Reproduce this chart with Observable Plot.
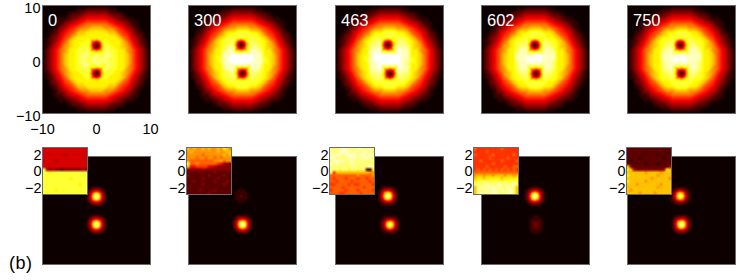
<!DOCTYPE html>
<html>
<head>
<meta charset="utf-8">
<script src="https://cdn.jsdelivr.net/npm/d3@7"></script>
<script src="https://cdn.jsdelivr.net/npm/@observablehq/plot@0.6"></script>
<style>
html,body{margin:0;padding:0;background:#fff}
#chart{position:relative;width:747px;height:280px;overflow:hidden;font-family:"Liberation Sans",Arial,sans-serif}
#chart>svg{position:absolute;overflow:visible;background:transparent}
#tag{position:absolute;left:9px;top:253px;font-size:18px;letter-spacing:.5px;color:#000}
</style>
</head>
<body>
<div id="chart"></div>
<script>
const frameLabels = ["0","300","463","602","750"];
const axisTicks = [-10,0,10];
const insetTicks = [-2,0,2];
const panelLeft = [42,188.3,334.5,480.7,626.8];
const insetLeft = [42,185.5,329,472.5,625.7];

// vortex core / bright-spot positions in each frame
const corePositions = [
  [[0,2.6],[0,-2.6]],
  [[-0.25,2.7],[0,-2.6]],
  [[-0.3,2.7],[0.1,-2.65]],
  [[-0.1,2.65],[0.1,-2.65]],
  [[-0.2,2.7],[0,-2.6]]
];

// density maps, 0..f on the "hot" colours; "." cells are covered by the core patch
const rimTop = [
 "0000000000000000000000000",
 "0000000011222221100000000",
 "0000001223444443221000000",
 "0000112345666665432110000",
 "0001134567888887654311000",
 "00013467899aaa99876431000"];
const rimBottom = [
 "00013467899aaa99876431000",
 "0001134567888887654311000",
 "0000112345666665432110000",
 "0000001223444443221000000",
 "0000000011222221100000000",
 "0000000000000000000000000"];
const density0 = [
 "00124678aabbbbbaa87642100",
 "0023578abbbbbbbbba8753200",
 "012468abbbc...cbbba864210",
 "013579abbcc...ccbba975310",
 "024689bbccd...dccbb986420",
 "02468abbcddcdcddcbba86420",
 "02468abbcdcddddccbba86420",
 "02468abbcddcddcdcbba86420",
 "024689bbccd...dccbb986420",
 "013579abbcc...ccbba975310",
 "012468abbbc...cbbba864210",
 "0023578abbbbbbbbba8753200",
 "00124678aabbbbbaa87642100"];
const density300 = [
 "00124678abbcccbba87642100",
 "0023578abcccccccba8753200",
 "012468abccd...dccba864210",
 "013579abcdd...ddcba975310",
 "024689bbdee...eedbb986420",
 "02468abbeefffffeebba86420",
 "02468abceffffffeecba86420",
 "02468abbeeffffeeebba86420",
 "024689bbdee...eedbb986420",
 "013579abcdd...ddcba975310",
 "012468abccd...dccba864210",
 "0023578abcccccccba8753200",
 "00124678abbcccbba87642100"];
const density463 = [
 "00124678abbcccbba87642100",
 "0023578abcccccccba8753200",
 "012468abcdd...ddcba864210",
 "013579abdde...eddba975310",
 "024689bbeef...feebb986420",
 "02468abbeffffffeebba86420",
 "02468abceffffffeecba86420",
 "02468abbeefffffedbba86420",
 "024689bbeef...feebb986420",
 "013579abdde...eddba975310",
 "012468abcdd...ddcba864210",
 "0023578abcccccccba8753200",
 "00124678abbcccbba87642100"];
const density602 = [
 "00124678abbcccbba87642100",
 "0023578abbcccccbba8753200",
 "012468abccd...dccba864210",
 "013579abcdd...ddcba975310",
 "024689bbdee...eedbb986420",
 "02468abbeeeeffeeebba86420",
 "02468abbeeffffeeebba86420",
 "02468abbdeeeeeeedbba86420",
 "024689bbdee...eedbb986420",
 "013579abcdd...ddcba975310",
 "012468abccd...dccba864210",
 "0023578abbcccccbba8753200",
 "00124678abbcccbba87642100"];
const density750 = [
 "00124678abbcccbba87642100",
 "0023578abbcccccbba8753200",
 "012468abccd...dccba864210",
 "013579abcdd...ddcba975310",
 "024689bbdee...eedbb986420",
 "02468abbeeeefeeeebba86420",
 "02468abbeeffffeeebba86420",
 "02468abbdeeeeeeedbba86420",
 "024689bbdee...eedbb986420",
 "013579abcdd...ddcba975310",
 "012468abccd...dccba864210",
 "0023578abbcccccbba8753200",
 "00124678abbcccbba87642100"];
const densityMaps = [density0,density300,density463,density602,density750];

// dark vortex core, sampled every 0.55 units around a position
const corePatch = ["bbabb","b646b","a404a","b646b","bbabb"];

// bright spots, same colour digits, sampled every 0.5 units around a position
const spotBright = ["000000000","001222100","013565310","025aca520","026cfc620","025aca520","013565310","001222100","000000000"];
const spotStrong = ["000000000","001111100","012454210","0249b9420","025beb520","0249b9420","012454210","001111100","000000000"];
const spotFaint  = ["000000000","000000000","000111000","001111100","001121100","001111100","000111000","000000000","000000000"];
const spotDim    = ["000000000","000111000","001111100","001222100","001232100","001222100","001111100","000111000","000000000"];
const spotsPerFrame = [
  [spotBright,spotBright],
  [spotFaint,spotBright],
  [spotBright,spotStrong],
  [spotBright,spotDim],
  [spotStrong,spotBright]
];
const emptyX = [-10,-5,5,10];
const emptyY = [-10,-5,0,5,10];
const emptyColumn = [[0,10],[0,0],[0,-10]];

// phase insets, 15 x 16 cells
const phase0 = [
 "555555555555555","555555555555555","555555545555555","555555555555555",
 "555545555555555","555555555555555","555555555555555","c43433233333343",
 "ccbcccccccccccc","ccccccccccccccc","cccccccccbccccc","ccccccccccccccc",
 "ccccccccccccbcc","ccccccccccccccc","ccccbcccccccccc","ccccccccccccccc"];
const phase300 = [
 "a9a99a9a99a9ba9","9a99999999a99aa","999998999999a9a","999899899898999",
 "98888888899a899","d88988888876433","a66777755433333","333334333333333",
 "222232222322222","322222232222322","222223222232222","223222222322232",
 "222223222222322","322222222222222","222232222322222","222222232222222"];
const phase463 = [
 "ddddeedddeedded","eddefeededdeedd","deeedeeeedeedee","eeddddeeedeeeed",
 "deeeeddeddddddd","ededdddeddddddd","dddddddddddddee","dddcddcddcdd21b",
 "d7aaaaaaaaaaa99","888888888988889","878887888788788","887888878888878",
 "778888787788887","888878888887888","788887888788887","888778888878888"];
const phase602 = [
 "877777777877777","777787777777777","877777877777787","777778777778777",
 "778777777877778","777777877777777","777787777787788","787878787878787",
 "888888888888888","9aa9aa9aaa9aa9a","abbabbbbbabbbbb","bccdcccdccdccdc",
 "ddddedddedddded","addedeededdedda","aeddedeededeeda","adededeedddeeda"];
const phase750 = [
 "222222222222222","222222122222212","222222222212222","222212222222122",
 "212222222222222","222222122212222","a32222222222224","ba43333333334ba",
 "aaaaaa9aaaa9aaa","baaaaaaaaa9aaaa","aaaaaaaa9aaaaa9","baaaaa9aaaaaaaa",
 "aaa9aaaaaaa9aaa","aaaaaaaaaa9aaaa","a9aaaaaaaaaaaaa","aaaa9aaaa9aaaaa"];
const phaseMaps = [phase0,phase300,phase463,phase602,phase750];

const digit = c => parseInt(c,16);
const fmt = d => d < 0 ? "\u2212" + (-d) : String(d);
const hot = {type:"linear",domain:[0,6,11.25,15],range:["#0c0000","#ff0000","#ffff00","#ffffff"]};
const host = document.getElementById("chart");
function place(svg,left,top){svg.style.left=left+"px";svg.style.top=top+"px";host.appendChild(svg);}

function densityTable(i){
  const rows = [...rimTop,...densityMaps[i],...rimBottom];
  const out = [];
  rows.forEach((row,r)=>[...row].forEach((c,k)=>{
    if(c!==".") out.push({x:-10+k*20/24,y:10-r*20/24,v:digit(c)});
  }));
  corePositions[i].forEach(([cx,cy])=>{
    corePatch.forEach((row,r)=>[...row].forEach((c,k)=>{
      out.push({x:cx+(k-2)*0.55,y:cy+(2-r)*0.55,v:digit(c)});
    }));
  });
  return out;
}
function spotTable(i){
  const out = [];
  for(const x of emptyX) for(const y of emptyY) out.push({x,y,v:0});
  emptyColumn.forEach(([x,y])=>out.push({x,y,v:0}));
  spotsPerFrame[i].forEach((patch,s)=>{
    const [cx,cy]=corePositions[i][s];
    patch.forEach((row,r)=>[...row].forEach((c,k)=>{
      out.push({x:cx+(k-4)*0.5,y:cy+(4-r)*0.5,v:digit(c)});
    }));
  });
  return out;
}
function mapPlot(table,i,top,withAxes){
  const ml=42,mt=5,mr=15,mb=27;
  const marks=[
    Plot.raster(table,{x:"x",y:"y",fill:"v",interpolate:"barycentric",pixelSize:1}),
    Plot.frame({stroke:"#6a6a6a",strokeWidth:1})
  ];
  if(withAxes){
    marks.push(Plot.axisX({ticks:axisTicks,tickSize:0,tickPadding:10,label:null,tickFormat:fmt,fontSize:14.5,fill:"#000"}));
    marks.push(Plot.axisY({ticks:axisTicks,tickSize:0,tickPadding:2,dy:3,label:null,tickFormat:fmt,fontSize:14.5,fill:"#000"}));
  }
  if(top===5) marks.push(Plot.text([frameLabels[i]],{text:d=>d,frameAnchor:"top-left",dx:5.5,dy:9,fill:"#fff",fontSize:16.5,fontFamily:"Liberation Sans"}));
  const svg=Plot.plot({
    width:108+ml+mr,height:108+mt+mb,marginLeft:ml,marginTop:mt,marginRight:mr,marginBottom:mb,
    style:{background:"transparent",fontFamily:"Liberation Sans",overflow:"visible"},
    x:{domain:[-10,10],axis:null},y:{domain:[-10,10],axis:null},color:hot,marks
  });
  place(svg,panelLeft[i]-ml,top-mt);
}
function insetPlot(i){
  const ml=30,mt=2,mr=2,mb=2;
  const values=phaseMaps[i].flatMap(r=>[...r].map(digit));
  const svg=Plot.plot({
    width:45+ml+mr,height:47+mt+mb,marginLeft:ml,marginTop:mt,marginRight:mr,marginBottom:mb,
    style:{background:"transparent",fontFamily:"Liberation Sans",overflow:"visible"},
    x:{domain:[-2.9,2.9],axis:null},y:{domain:[-2.8,3],axis:null},color:hot,
    marks:[
      Plot.raster(values,{width:15,height:16,x1:-2.9,x2:2.9,y1:3,y2:-2.8}),
      Plot.frame({stroke:"#6a6a6a",strokeWidth:1}),
      Plot.axisY({ticks:insetTicks,tickSize:0,tickPadding:1,label:null,tickFormat:fmt,fontSize:14.5,fill:"#000"})
    ]
  });
  place(svg,insetLeft[i]-ml,146.5-mt);
}
frameLabels.forEach((_,i)=>{
  mapPlot(densityTable(i),i,5,i===0);
  mapPlot(spotTable(i),i,155.5,false);
  insetPlot(i);
});
const tag=document.createElement("div");tag.id="tag";tag.textContent="(b)";host.appendChild(tag);
</script>
</body>
</html>
